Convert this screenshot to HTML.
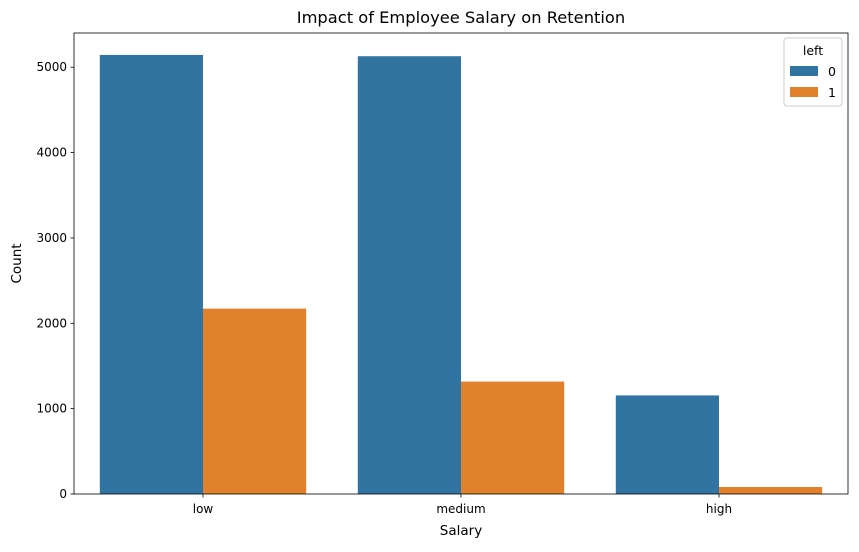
<!DOCTYPE html>
<html><head><meta charset="utf-8"><style>
body{margin:0;background:#fff;font-family:"Liberation Sans","DejaVu Sans",sans-serif;}
</style></head><body>
<svg width="859" height="547" xmlns="http://www.w3.org/2000/svg" font-family="DejaVu Sans, Liberation Sans, sans-serif">
<g id="g"></g>
</svg>
<script>
const categories=["low","medium","high"];
const seriesNames=["0","1"];
const stayed=[5144,5129,1155];
const left=[2172,1317,82];
const yTicks=[0,1000,2000,3000,4000,5000];
const colors=["#3274a1","#e1812c"];
const L=74,R=848,T=33,B=494,yMax=5401;
const ns="http://www.w3.org/2000/svg";
const g=document.getElementById('g');
function y(v){return B-(v/yMax)*(B-T);}
function x(i){return L+(i+0.5)*(R-L)/categories.length;}
const bw=0.4*(R-L)/categories.length;
function mk(t,a,p){const e=document.createElementNS(ns,t);for(const k in a)e.setAttribute(k,a[k]);(p||g).appendChild(e);return e;}
function txt(s,a){const e=mk('text',a);e.textContent=s;return e;}
[stayed,left].forEach((arr,si)=>{arr.forEach((v,i)=>{
 const r=mk('rect',{x:x(i)-bw+si*bw,y:y(v),width:bw,height:B-y(v),fill:colors[si]});
 
 
});});
const ax=mk('rect',{x:L,y:T,width:R-L,height:B-T,fill:'none',stroke:'#000','stroke-width':0.8});


yTicks.forEach(v=>{
 mk('line',{x1:L-3.5,x2:L,y1:y(v),y2:y(v),stroke:'#000','stroke-width':0.8});
 const t=txt(v,{x:L-7,y:y(v)+4,'text-anchor':'end','font-size':12,fill:'#000'});
 
 
});
categories.forEach((c,i)=>{
 mk('line',{x1:x(i),x2:x(i),y1:B,y2:B+3.5,stroke:'#000','stroke-width':0.8});
 const t=txt(c,{x:x(i),y:B+19,'text-anchor':'middle','font-size':12,fill:'#000'});
 
 
});
let t=txt('Impact of Employee Salary on Retention',{x:(L+R)/2,y:23,'text-anchor':'middle','font-size':16.3});

t=txt('Salary',{x:(L+R)/2,y:535,'text-anchor':'middle','font-size':13.5});

t=txt('Count',{x:21,y:(T+B)/2,'text-anchor':'middle','font-size':13.5,transform:'rotate(-90 21 '+(T+B)/2+')'});

const lg=mk('rect',{x:784,y:38,width:58,height:68,rx:3,fill:'#fff',stroke:'#ccc','fill-opacity':0.8});

t=txt('left',{x:813,y:55,'text-anchor':'middle','font-size':12.5});

seriesNames.forEach((s,i)=>{
 const r=mk('rect',{x:790,y:66+i*21,width:28,height:10,fill:colors[i]});
 
 const e=txt(s,{x:828,y:76+i*21,'font-size':12.5});
 
});
</script>
</body></html>
